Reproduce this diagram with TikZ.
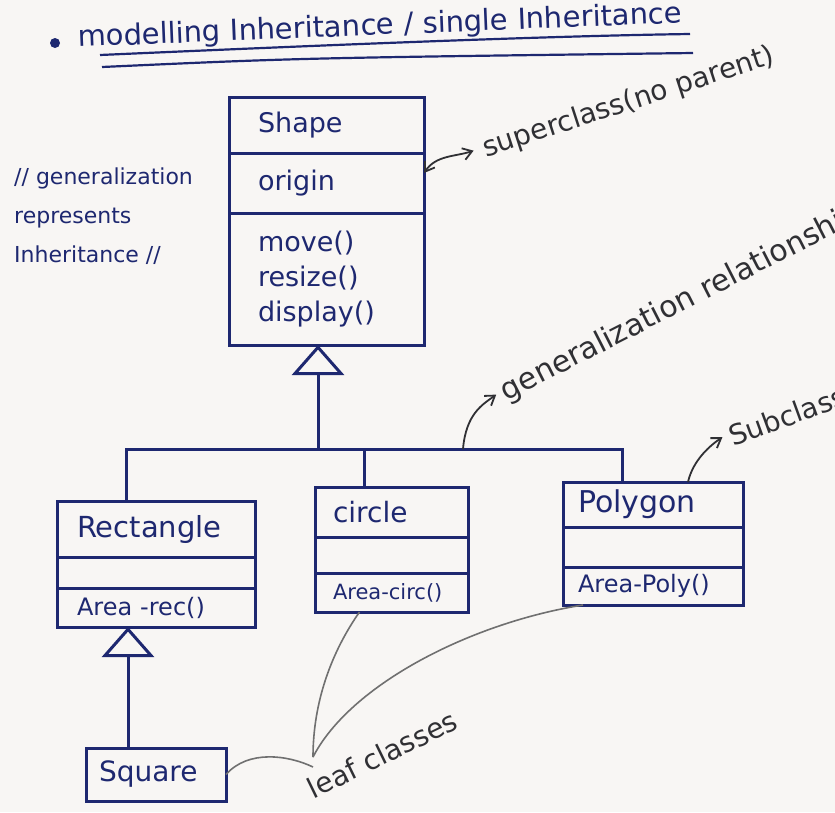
\documentclass[tikz,border=0pt]{standalone}
\usepackage{fontspec}
\setmainfont{DejaVu Sans}
\usetikzlibrary{arrows.meta,positioning}

\definecolor{inkblue}{RGB}{30,40,112}
\definecolor{notes}{RGB}{48,48,52}
\definecolor{pencil}{RGB}{112,112,112}
\definecolor{paper}{RGB}{248,246,244}

\tikzset{
  box/.style={draw=inkblue, line width=3pt, text=inkblue, anchor=north, align=left, inner ysep=2pt, outer sep=0pt},
  link/.style={draw=inkblue, line width=3pt},
  inherit/.style={link, -{Triangle[open, length=30pt, width=52pt]}},
  note/.style={text=notes, inner sep=2pt, anchor=base west},
  pointer/.style={draw=notes, line width=1.8pt, >={Straight Barb[length=9pt, width=12pt]}},
  pencil line/.style={draw=pencil, line width=1.6pt},
}

\begin{document}
\begin{tikzpicture}[x=1pt, y=-1pt]
    \fill[paper] (0,0) rectangle (835,812);
    \useasboundingbox (0,0) rectangle (835,812);

    %% heading
    \fill[inkblue] (55,43) circle (5pt);
    \node[text=inkblue, anchor=base west, rotate=2.3, inner sep=0pt,
          font=\fontsize{29}{35}\selectfont] (title) at (78,47)
          {modelling Inheritance / single Inheritance};
    \draw[link, line width=2.2pt] (100,55) .. controls (350,44) and (550,36) .. (690,34);
    \draw[link, line width=2.2pt] (102,67) .. controls (300,58) .. (693,53);

    %% side remark
    \node[text=inkblue, anchor=north west, align=left, inner sep=0pt,
          font=\fontsize{22}{39}\selectfont] (remark) at (14,168)
          {// generalization\\represents\\Inheritance //};

    %% superclass
    \node[box, minimum height=56pt, text width=137pt, inner xsep=29pt, font=\fontsize{27}{35}\selectfont] (shape-name) at (326.5,97) {Shape};
    \node[box, below=0pt of shape-name, minimum height=60pt, text width=137pt, inner xsep=29pt, font=\fontsize{27}{35}\selectfont] (shape-attr) {origin};
    \node[box, below=0pt of shape-attr, minimum height=132pt, text width=137pt, inner xsep=29pt, font=\fontsize{27}{35}\selectfont] (shape-ops) {move()\\resize()\\display()};

    %% subclasses
    \node[box, minimum height=56pt, text width=158pt, inner xsep=20pt, font=\fontsize{29}{35}\selectfont] (rect-name) at (156,501) {Rectangle};
    \node[box, below=0pt of rect-name, minimum height=31pt, text width=158pt, inner xsep=20pt] (rect-attr) {};
    \node[box, below=0pt of rect-attr, minimum height=39pt, text width=158pt, inner xsep=20pt, font=\fontsize{24}{30}\selectfont] (rect-ops) {Area -rec()};

    \node[box, minimum height=50pt, text width=117pt, inner xsep=18pt, font=\fontsize{28}{35}\selectfont] (circ-name) at (391.5,487) {circle};
    \node[box, below=0pt of circ-name, minimum height=36pt, text width=117pt, inner xsep=18pt] (circ-attr) {};
    \node[box, below=0pt of circ-attr, minimum height=39pt, text width=117pt, inner xsep=18pt, font=\fontsize{21}{30}\selectfont] (circ-ops) {Area-circ()};

    \node[box, minimum height=45pt, text width=150pt, inner xsep=15pt, font=\fontsize{30}{35}\selectfont] (poly-name) at (653,482) {Polygon};
    \node[box, below=0pt of poly-name, minimum height=40pt, text width=150pt, inner xsep=15pt] (poly-attr) {};
    \node[box, below=0pt of poly-attr, minimum height=38pt, text width=150pt, inner xsep=15pt, font=\fontsize{24}{30}\selectfont] (poly-ops) {Area-Poly()};

    \node[box, minimum height=53pt, text width=114pt, inner xsep=13pt, font=\fontsize{28}{35}\selectfont] (square) at (156,748) {Square};

    %% generalization tree
    \coordinate (bar) at (318,449);
    \draw[inherit] (bar) -- (bar |- shape-ops.south);
    \draw[link] ([xshift=-30pt]rect-name.north) |- (bar) -| ([xshift=-31pt]poly-name.north);
    \draw[link] ([xshift=-27pt]circ-name.north) -- ([xshift=-27pt]circ-name.north |- bar);
    \draw[inherit] ([xshift=-28pt]square.north) coordinate (sq-top) -- (sq-top |- rect-ops.south);

    %% labels
    \node[note, rotate=18, font=\fontsize{28}{35}\selectfont] (super) at (484,158) {superclass(no parent)};
    \node[note, rotate=27, font=\fontsize{30}{35}\selectfont] (gen) at (505,402) {generalization relationship};
    \node[note, rotate=20, font=\fontsize{28}{35}\selectfont] (sub) at (731,447) {Subclass};
    \node[note, rotate=26, font=\fontsize{28}{35}\selectfont] (leafc) at (312,800) {leaf classes};

    \draw[pointer, <->] ([yshift=10pt]shape-attr.east) .. controls +(12,-18) and +(-18,6) .. ([xshift=-8pt]super.west);
    \draw[pointer, ->] ([xshift=145pt]bar) .. controls +(3,-35) and +(-14,10) .. ([xshift=-5pt]gen.west);
    \draw[pointer, ->] ([xshift=35pt]poly-name.north) .. controls +(5,-22) and +(-12,8) .. ([xshift=-5pt]sub.west);

    %% leaf classes
    \coordinate (leaf) at (313,757);
    \draw[pencil line] ([xshift=-32pt]circ-ops.south) .. controls +(-28,40) and +(0,-55) .. (leaf);
    \draw[pencil line] ([xshift=20pt]poly-ops.south west) .. controls +(-113,18) and +(37,-72) .. (leaf);
    \draw[pencil line] (square.east) .. controls +(22,-25) and +(-25,-12) .. ([yshift=-10pt]leaf);
\end{tikzpicture}
\end{document}
